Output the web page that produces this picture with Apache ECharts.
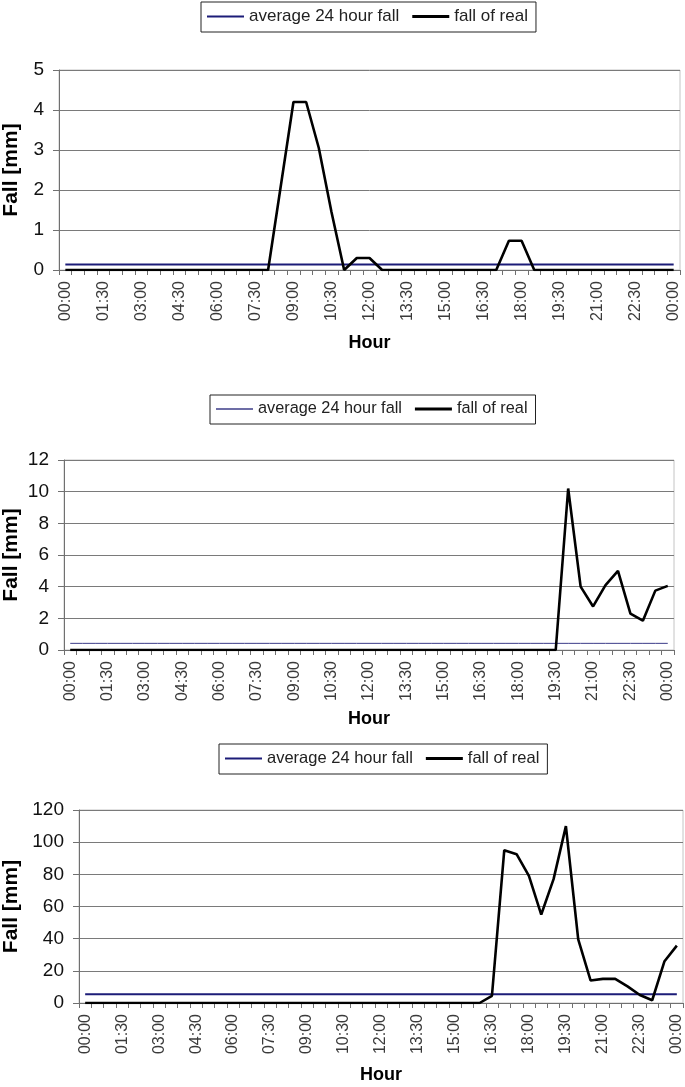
<!DOCTYPE html>
<html>
<head>
<meta charset="utf-8">
<script src="https://cdn.jsdelivr.net/npm/echarts@6/dist/echarts.min.js"></script>
<style>
html,body{margin:0;padding:0;background:#fff;}
#c{width:685px;height:1087px;}
</style>
</head>
<body>
<div id="c"></div>
<script>
var hours = ['00:00','00:30','01:00','01:30','02:00','02:30','03:00','03:30','04:00','04:30','05:00','05:30',
  '06:00','06:30','07:00','07:30','08:00','08:30','09:00','09:30','10:00','10:30','11:00','11:30',
  '12:00','12:30','13:00','13:30','14:00','14:30','15:00','15:30','16:00','16:30','17:00','17:30',
  '18:00','18:30','19:00','19:30','20:00','20:30','21:00','21:30','22:00','22:30','23:00','23:30','00:00'];

var fall1 = [0,0,0,0,0,0,0,0,0,0,0,0,0,0,0,0,0,2.1,4.2,4.2,3.05,1.45,0,0.3,0.3,0,0,0,0,0,0,0,0,0,0,0.73,0.73,0,0,0,0,0,0,0,0,0,0,0,0];
var avg1 = 0.14;
var fall2 = [0,0,0,0,0,0,0,0,0,0,0,0,0,0,0,0,0,0,0,0,0,0,0,0,0,0,0,0,0,0,0,0,0,0,0,0,0,0,0,0,10.2,4.0,2.75,4.1,5.0,2.3,1.85,3.75,4.05];
var avg2 = 0.42;
var fall3 = [0,0,0,0,0,0,0,0,0,0,0,0,0,0,0,0,0,0,0,0,0,0,0,0,0,0,0,0,0,0,0,0,0,4.5,95,92.5,79,55,77,110,39.5,14,15,15,10.3,5,1.7,26,35.7];
var avg3 = 5.5;

var yMax = [5, 12, 120];
var yStep = [1, 2, 20];

var AVG = 'average 24 hour fall', REAL = 'fall of real';
var FONT = 'Liberation Sans, Arial, sans-serif';

var grids = [
  {left: 59, top: 70, width: 621, height: 200},
  {left: 64, top: 460, width: 610, height: 190},
  {left: 79, top: 810, width: 604, height: 193}
];
var legendPos = [
  {left: 201, top: 2, fs: 17},
  {left: 210, top: 395, fs: 16.3},
  {left: 219, top: 744, fs: 16.5}
];
var yNameGap = [37, 42, 57];
var xNameGap = [64, 60, 63];
var avgStyle = [
  {color: '#1c1c78', width: 2, icon: 'path://M0,0h40v2h-40z'},
  {color: '#3c3c88', width: 1, icon: 'path://M0,0h40v1.4h-40z'},
  {color: '#1c1c78', width: 2, icon: 'path://M0,0h40v2h-40z'}
];

var fallSets = [fall1, fall2, fall3];
var avgSets = [avg1, avg2, avg3];
var avgNames = [AVG, AVG + '\u200b', AVG + '\u200b\u200b'];
var realNames = [REAL, REAL + '\u200b', REAL + '\u200b\u200b'];

var option = {
  animation: false,
  backgroundColor: '#fff',
  grid: [], xAxis: [], yAxis: [], legend: [], series: []
};

for (var k = 0; k < 3; k++) {
  var g = grids[k];
  option.grid.push({left: g.left, top: g.top, width: g.width, height: g.height,
    containLabel: false, outerBoundsMode: 'none',
    show: true, borderColor: '#c4c4c4', borderWidth: 1, backgroundColor: '#fff'});
  option.xAxis.push({
    type: 'category', gridIndex: k, data: hours, boundaryGap: true,
    name: 'Hour', nameLocation: 'middle', nameGap: xNameGap[k], nameMoveOverlap: false,
    nameTextStyle: {fontFamily: FONT, fontSize: 18, fontWeight: 'bold', color: '#000'},
    axisLine: {lineStyle: {color: '#707070', width: 1}},
    axisTick: {show: true, interval: 0, length: 5, lineStyle: {color: '#707070'}},
    axisLabel: {interval: 2, rotate: 90, margin: 11, fontFamily: FONT, fontSize: 16, color: '#3a3a3a'},
    splitLine: {show: false}
  });
  option.yAxis.push({
    type: 'value', gridIndex: k, min: 0, max: yMax[k], interval: yStep[k],
    name: 'Fall [mm]', nameLocation: 'middle', nameGap: yNameGap[k], nameMoveOverlap: false,
    nameTextStyle: {fontFamily: FONT, fontSize: 21, fontWeight: 'bold', color: '#000'},
    axisLine: {show: true, lineStyle: {color: '#707070', width: 1}},
    axisTick: {show: true, length: 6, lineStyle: {color: '#707070'}},
    axisLabel: {margin: 15, fontFamily: FONT, fontSize: 19, color: '#111'},
    splitLine: {show: true, lineStyle: {color: '#7a7a7a', width: 1}}
  });
  var lp = legendPos[k];
  option.legend.push({
    left: lp.left, top: lp.top, orient: 'horizontal',
    padding: [6, 8, 7, 6], itemGap: 13, itemWidth: 37, itemHeight: 6,
    borderColor: '#222', borderWidth: 1, backgroundColor: '#fff',
    textStyle: {fontFamily: FONT, fontSize: lp.fs, color: '#222'},
    formatter: function (n) { return n.replace(/\u200b/g, ''); },
    data: [
      {name: avgNames[k], icon: avgStyle[k].icon},
      {name: realNames[k], icon: 'path://M0,0h40v3h-40z'}
    ]
  });
  var av = avgSets[k];
  option.series.push({
    name: avgNames[k], type: 'line', xAxisIndex: k, yAxisIndex: k,
    data: hours.map(function () { return av; }),
    symbol: 'none', color: avgStyle[k].color,
    lineStyle: {color: avgStyle[k].color, width: avgStyle[k].width},
    z: 2
  });
  option.series.push({
    name: realNames[k], type: 'line', xAxisIndex: k, yAxisIndex: k,
    data: fallSets[k],
    symbol: 'none', color: '#000',
    lineStyle: {color: '#000', width: 2.6},
    z: 3
  });
}

var chart = echarts.init(document.getElementById('c'), null, {renderer: 'canvas'});
chart.setOption(option);
</script>
</body>
</html>
